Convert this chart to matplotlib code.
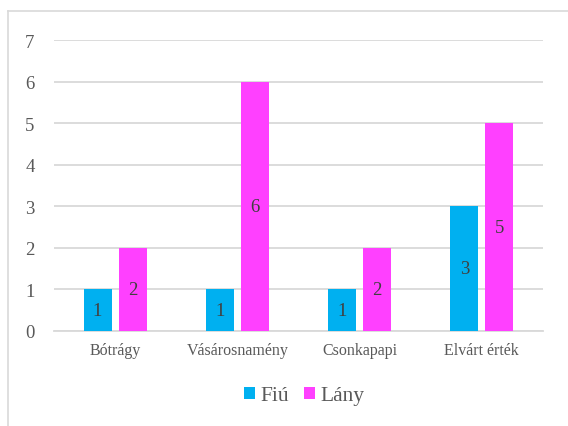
import matplotlib
matplotlib.use("Agg")
import matplotlib.pyplot as plt
from matplotlib.lines import Line2D
import numpy as np

categories = ["Bótrágy", "Vásárosnamény", "Csonkapapi", "Elvárt érték"]
fiu = [1, 1, 1, 3]
lany = [2, 6, 2, 5]
series_names = ["Fiú", "Lány"]
yticks = [0, 1, 2, 3, 4, 5, 6, 7]

plt.rcParams['font.family'] = ['Liberation Serif', 'DejaVu Serif']
txt = '#595959'

fig = plt.figure(figsize=(5.68, 4.27), dpi=100)
ax = fig.add_axes([54/568, 1-332/427, (543-54)/568, (332-41)/427])

x = np.arange(len(categories))
w = 0.23
gap = 0.057
b1 = ax.bar(x - (w+gap)/2, fiu, w, color='#00B0F0', label=series_names[0], zorder=3)
b2 = ax.bar(x + (w+gap)/2, lany, w, color='#FF40FF', label=series_names[1], zorder=3)

for bars, vals in ((b1, fiu), (b2, lany)):
    for r, v in zip(bars, vals):
        ax.text(r.get_x() + r.get_width()/2, v/2, str(v), ha='center', va='center',
                fontsize=13.5, color='#404040', zorder=4)

ax.set_xlim(-0.5, len(categories)-0.5)
ax.set_ylim(0, 7)
ax.set_yticks(yticks)
ax.set_yticklabels([str(t) for t in yticks], fontsize=13.5, color=txt)
ax.set_xticks(x)
ax.set_xticklabels(categories, fontsize=11.5, color=txt)
ax.tick_params(axis='both', length=0)
ax.tick_params(axis='y', pad=14)
ax.tick_params(axis='x', pad=8)
ax.grid(axis='y', color='#D9D9D9', linewidth=1.3, zorder=0)
for s in ['top', 'right', 'left']:
    ax.spines[s].set_visible(False)
ax.spines['bottom'].set_color('#D9D9D9')
ax.spines['bottom'].set_linewidth(1.3)

leg = fig.legend(loc='center', bbox_to_anchor=(304/568, 1-397/427), ncol=2, frameon=False,
                 fontsize=15.5, handlelength=0.5, handleheight=0.5, handletextpad=0.25,
                 columnspacing=0.7)
for t in leg.get_texts():
    t.set_color(txt)

fig.add_artist(Line2D([8/568, 8/568], [0, 1-11.5/427], color='#D9D9D9', linewidth=1.2, transform=fig.transFigure))
fig.add_artist(Line2D([8/568, 1], [1-11.5/427, 1-11.5/427], color='#D9D9D9', linewidth=1.2, transform=fig.transFigure))

fig.savefig("out.png", dpi=100)
